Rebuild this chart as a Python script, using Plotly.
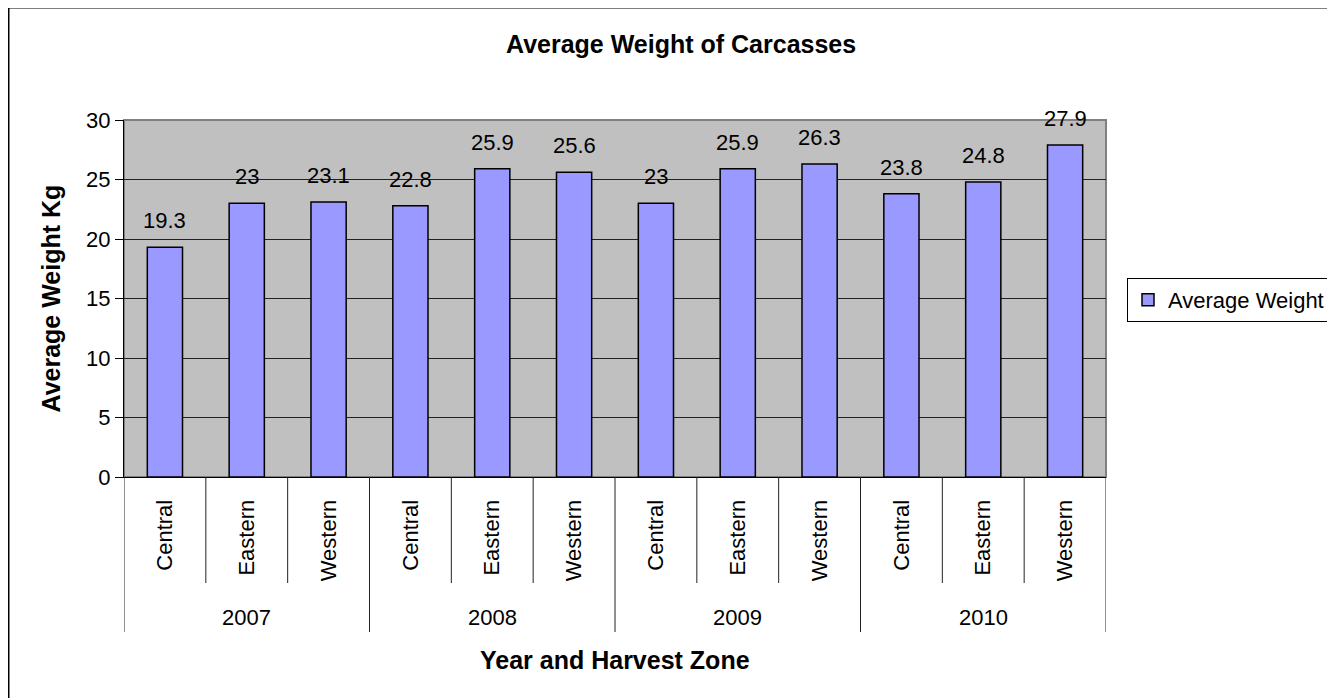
import plotly.graph_objects as go

# ---- data ----
years = ["2007", "2008", "2009", "2010"]
zones = ["Central", "Eastern", "Western"]
weights = [19.3, 23.0, 23.1, 22.8, 25.9, 25.6, 23.0, 25.9, 26.3, 23.8, 24.8, 27.9]
labels = ["19.3", "23", "23.1", "22.8", "25.9", "25.6", "23", "25.9", "26.3", "23.8", "24.8", "27.9"]
series_name = "Average Weight"
title_text = "Average Weight of Carcasses"
x_title = "Year and Harvest Zone"
y_title = "Average Weight Kg"

zone_labels = [z for _ in years for z in zones]
xpos = list(range(len(zone_labels)))

FONT = "Liberation Sans, Arial, sans-serif"
FS = 22     # tick / label font
FT = 25     # bold titles

OFF = 8  # page body margin
W, H = 1335, 698
# plot area in page pixel coords
L, R, T, B = 124 - OFF, 1106 - OFF, 120 - OFF, 477 - OFF
pw, ph = R - L, B - T

def py(page_y):  # page pixel y -> paper y
    return (B - (page_y - OFF)) / ph

def pxp(page_x):  # page pixel x -> paper x
    return ((page_x - OFF) - L) / pw

fig = go.Figure()
fig.add_trace(go.Bar(
    x=xpos, y=weights, name=series_name,
    marker=dict(color="#9999FF", line=dict(color="black", width=1.5)),
    width=0.43,
))

annotations = []
# data labels
for xi, v, t in zip(xpos, weights, labels):
    annotations.append(dict(x=xi, y=v, xref="x", yref="y", text=t, showarrow=False,
                            yanchor="bottom", yshift=12,
                            font=dict(family=FONT, size=FS, color="black")))
# year labels
for i, yr in enumerate(years):
    annotations.append(dict(x=i * len(zones) + (len(zones) - 1) / 2, y=py(617), xref="x", yref="paper",
                            text=yr, showarrow=False, yanchor="middle",
                            font=dict(family=FONT, size=FS, color="black")))
# titles
annotations.append(dict(x=0.5, y=py(660), xref="paper", yref="paper", text="<b>%s</b>" % x_title,
                        showarrow=False, yanchor="middle",
                        font=dict(family=FONT, size=FT, color="black")))
annotations.append(dict(x=pxp(50), y=0.5, xref="paper", yref="paper", text="<b>%s</b>" % y_title,
                        showarrow=False, textangle=-90, xanchor="center", yanchor="middle",
                        font=dict(family=FONT, size=FT, color="black")))
annotations.append(dict(x=pxp(681), y=py(44), xref="paper", yref="paper", text="<b>%s</b>" % title_text,
                        showarrow=False, xanchor="center", yanchor="middle",
                        font=dict(family=FONT, size=FT, color="black")))

shapes = []
# separators under the category axis
n = len(zone_labels)
for k in range(n + 1):
    xb = k - 0.5
    is_year = (k % len(zones) == 0)
    shapes.append(dict(type="line", xref="x", yref="paper", x0=xb, x1=xb,
                       y0=0, y1=py(632) if is_year else py(583),
                       line=dict(color="#222", width=1)))
# plot-area border (gray)
shapes.append(dict(type="rect", xref="paper", yref="paper", x0=0, x1=1, y0=0, y1=1,
                   line=dict(color="#808080", width=2), layer="below"))
# outer chart border
shapes.append(dict(type="rect", xref="paper", yref="paper", x0=pxp(8.75), x1=pxp(1500),
                   y0=py(900), y1=py(7.75), line=dict(color="black", width=1.5)))

fig.update_layout(
    width=W, height=H,
    margin=dict(l=L, r=W - R, t=T, b=H - B, pad=0),
    paper_bgcolor="white", plot_bgcolor="#C0C0C0",
    font=dict(family=FONT, size=FS, color="black"),
    showlegend=True,
    legend=dict(x=pxp(1127), y=py(278), xanchor="left", yanchor="top",
                bordercolor="black", borderwidth=1, bgcolor="white",
                font=dict(family=FONT, size=FS, color="black"),
                itemwidth=30),
    annotations=annotations,
    shapes=shapes,
    xaxis=dict(range=[-0.5, n - 0.5], tickmode="array", tickvals=xpos, ticktext=zone_labels,
               tickangle=-90, ticks="", showgrid=False, zeroline=False,
               showline=True, linecolor="black", linewidth=1,
               tickfont=dict(family=FONT, size=FS, color="black"), ticklabelstandoff=13),
    yaxis=dict(range=[0, 30], dtick=5, tick0=0, ticks="outside", ticklen=8, tickcolor="black",
               showgrid=True, gridcolor="#222", gridwidth=1, zeroline=False,
               showline=True, linecolor="black", linewidth=1,
               tickfont=dict(family=FONT, size=FS, color="black")),
)

fig.write_html("out.html")
